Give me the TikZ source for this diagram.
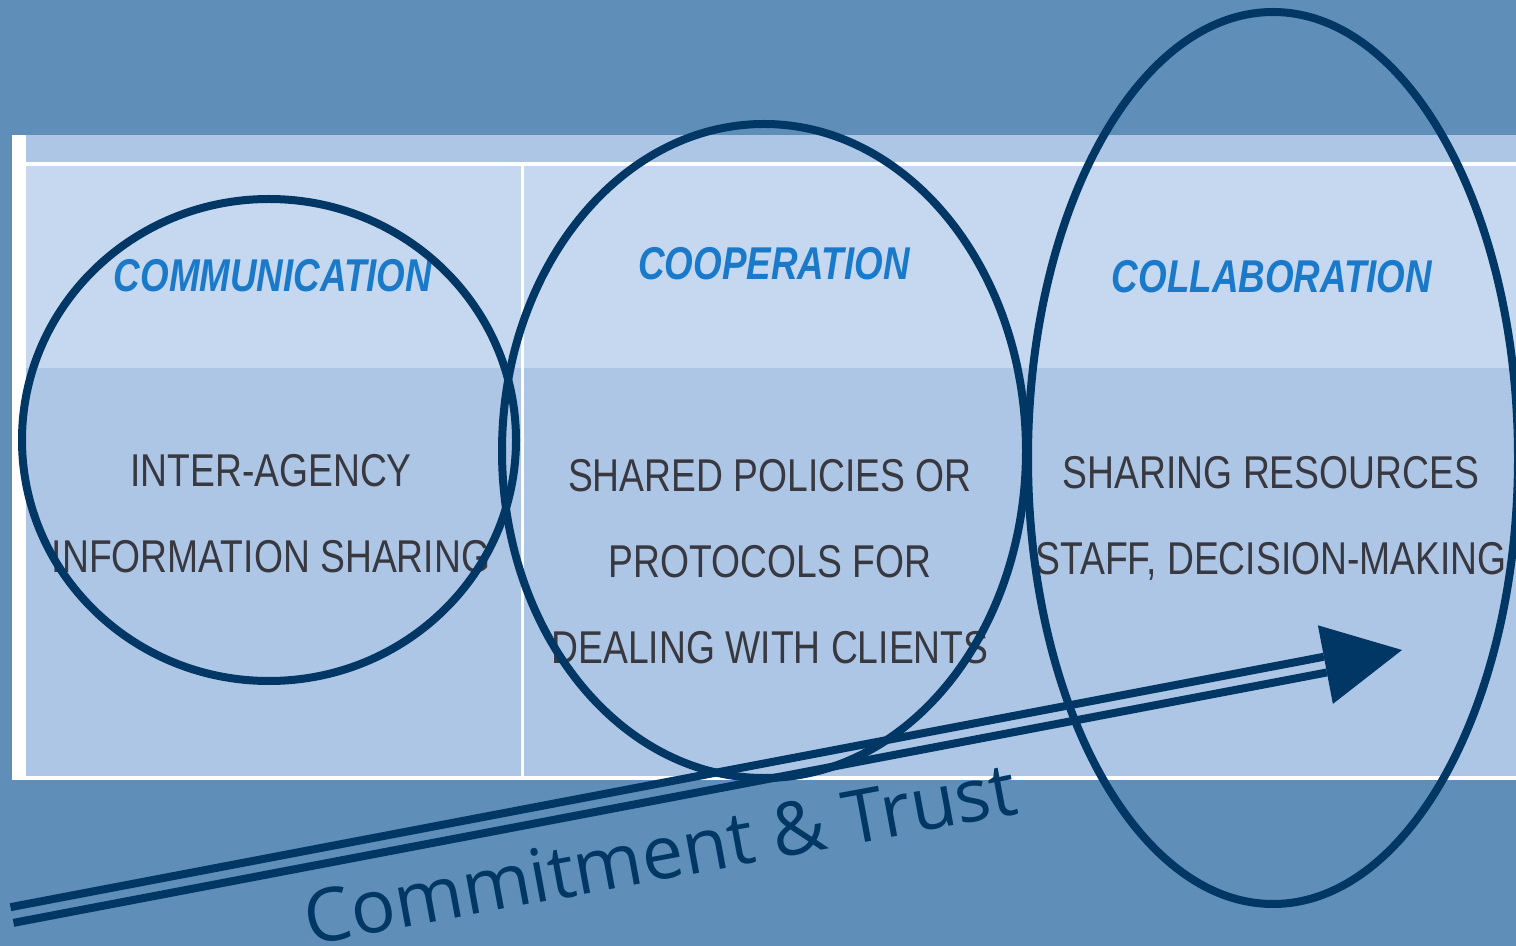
\documentclass[tikz,border=0pt]{standalone}
\usepackage{fontspec}
\usepackage{tikz}
\usetikzlibrary{calc}
\newfontfamily\cellfont[FakeStretch=0.81]{Liberation Sans}
\newfontfamily\headfont[FakeStretch=0.80]{Liberation Sans}
\newfontfamily\trustfont{Open Sans}
\definecolor{slide}{HTML}{5F8FB8}
\definecolor{rowdark}{HTML}{AEC6E6}
\definecolor{rowlight}{HTML}{C5D8F0}
\definecolor{navy}{HTML}{003764}
\definecolor{headblue}{HTML}{1A7AC9}
\definecolor{celltext}{HTML}{383840}
\tikzset{
  ring/.style={
    draw=navy,
    line width=4pt
  },
  head/.style={
    text=headblue,
    inner sep=0pt,
    font=\headfont\bfseries\itshape\fontsize{23}{28}\selectfont
  },
  cell/.style={
    text=celltext,
    align=center,
    inner sep=0pt,
    font=\cellfont\fontsize{23}{43}\selectfont
  },
}
\tikzstyle{rail} = [draw=navy, line width=4pt]

\begin{document}
\begin{tikzpicture}[x=0.5pt, y=-0.5pt]
        \useasboundingbox (0,0) rectangle (1516,946);
        \clip (0,0) rectangle (1516,946);
        % slide and table
        \fill[slide] (0,0) rectangle (1516,946);
        \fill[white] (12,135) rectangle (1516,780);
        \fill[rowdark] (26,135) rectangle (1516,162);
        \fill[rowlight] (26,166) rectangle (1516,368);
        \fill[rowdark] (26,368) rectangle (1516,776);
        \draw[white, line width=1.5pt] (522.5,166) -- (522.5,776);

        % headers
        \node[head] (comm) at (273,276) {COMMUNICATION};
        \node[head] (coop) at (774,264) {COOPERATION};
        \node[head] (coll) at (1272,277) {COLLABORATION};

        % cells
        \node[cell] (commtxt) at (271,514) {INTER-AGENCY\\INFORMATION SHARING};
        \node[cell] (cooptxt) at (770,562) {SHARED POLICIES OR\\PROTOCOLS FOR\\DEALING WITH CLIENTS};
        \node[cell] (colltxt) at (1271,518) {SHARING RESOURCES\\STAFF, DECISION-MAKING};

        % rings
        \draw[ring] (269,440) ellipse [x radius=247, y radius=241];
        \draw[ring] (764,451) ellipse [x radius=262, y radius=327];
        \draw[ring] (1273,458) ellipse [x radius=245, y radius=446];

        % arrow
        \coordinate (tail) at (12,915);
        \coordinate (tip) at (1402,650);
        \coordinate (base) at ($(tip)!39pt!(tail)$);
        \draw[rail] ([shift={(-1.5,-7.85)}]tail) -- ([shift={(-1.5,-7.85)}]base);
        \draw[rail] ([shift={(1.5,7.85)}]tail) -- ([shift={(1.5,7.85)}]base);
        \fill[navy] (tip) -- ($(base)!20pt!90:(tip)$) -- ($(base)!20pt!-90:(tip)$) -- cycle;

        \node[text=navy, font=\trustfont\fontsize{37}{44}\selectfont, rotate=10.5] (trust) at (660,853) {Commitment \& Trust};
    \end{tikzpicture}
\end{document}
